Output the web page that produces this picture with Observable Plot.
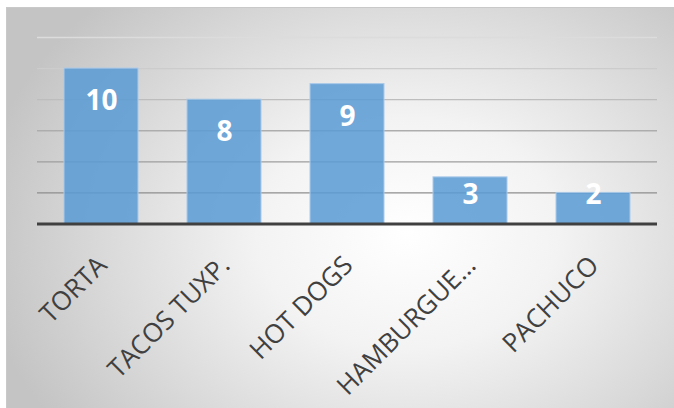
<!DOCTYPE html>
<html>
<head>
<meta charset="utf-8">
<script src="https://cdn.jsdelivr.net/npm/d3@7"></script>
<script src="https://cdn.jsdelivr.net/npm/@observablehq/plot@0.6"></script>
<style>
  html, body { margin: 0; padding: 0; background: #ffffff; }
  #wrap { position: relative; width: 674px; height: 408px; overflow: hidden; background: #ffffff; }
  #card {
    position: absolute; left: 6px; top: 7px; width: 700px; height: 420px;
    border-left: 1px solid #c9c9c9; border-top: 1px solid #c9c9c9;
    background: radial-gradient(ellipse 430px 330px at 400px 225px, #ffffff 0%, #f3f3f3 35%, #dadada 70%, #c4c4c4 100%);
  }
  #chart { position: absolute; left: 0; top: 0; }
</style>
</head>
<body>
<div id="wrap"><div id="card"></div><div id="chart"></div></div>
<script>
const categories = ["TORTA", "TACOS TUXP.", "HOT DOGS", "HAMBURGUE…", "PACHUCO"];
const values = [10, 8, 9, 3, 2];
const yTicks = [2, 4, 6, 8, 10, 12];

const data = categories.map((c, i) => ({category: c, value: values[i]}));
const gridColor = d3.interpolateRgb("#8e8e8e", "#dcdcdc");

const chart = Plot.plot({
  width: 674,
  height: 408,
  marginLeft: 37,
  marginRight: 17,
  marginTop: 37,
  marginBottom: 184.5,
  style: {background: "transparent", overflow: "visible"},
  x: {domain: categories, paddingInner: 0.395, paddingOuter: 0.2, axis: null},
  y: {domain: [0, 12], axis: null},
  color: {type: "identity"},
  marks: [
    Plot.ruleY(yTicks, {stroke: d => gridColor((d - 2) / 10), strokeWidth: 1.3}),
    Plot.barY(data, {x: "category", y: "value", fill: "#5b9bd5", fillOpacity: 0.86, stroke: "#a9c9e9", strokeWidth: 1}),
    Plot.ruleY([0], {stroke: "#404040", strokeWidth: 3}),
    Plot.text(data, {
      x: "category",
      y: d => Math.max(d.value - 2.1, 1.87),
      text: d => String(d.value),
      fill: "#ffffff",
      fontSize: 28,
      fontWeight: "bold",
      fontFamily: "Open Sans",
      lineAnchor: "middle"
    }),
    Plot.text(categories, {
      x: d => d,
      frameAnchor: "bottom",
      text: d => d,
      rotate: -45,
      textAnchor: "end",
      lineAnchor: "middle",
      dx: 1,
      dy: 37,
      fill: "#404040",
      fontSize: 26,
      fontFamily: "Open Sans"
    })
  ]
});
document.getElementById("chart").appendChild(chart);
</script>
</body>
</html>
